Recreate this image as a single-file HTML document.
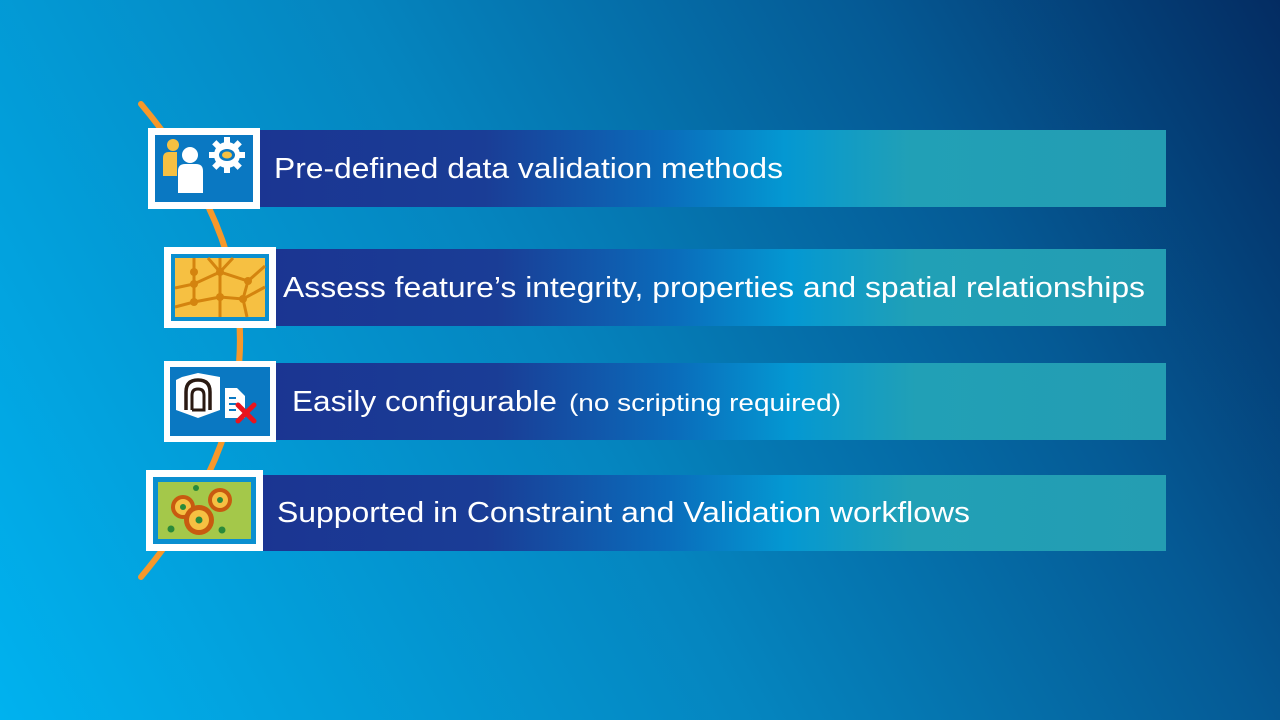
<!DOCTYPE html>
<html><head><style>
html,body{margin:0;padding:0;width:1280px;height:720px;overflow:hidden}
svg{display:block}
text{font-family:"Liberation Sans",Arial,sans-serif;fill:#fff}
</style></head><body>
<svg width="1280" height="720" viewBox="0 0 1280 720" xmlns="http://www.w3.org/2000/svg">
<defs>
<linearGradient id="bg" x1="0" y1="720" x2="1280" y2="0" gradientUnits="userSpaceOnUse">
<stop offset="0" stop-color="#00b2ef"/>
<stop offset="0.45" stop-color="#0585bf"/>
<stop offset="0.75" stop-color="#055a95"/>
<stop offset="1" stop-color="#042c62"/>
</linearGradient>
<linearGradient id="bar" x1="0" y1="0" x2="1" y2="0">
<stop offset="0" stop-color="#1b3592"/>
<stop offset="0.25" stop-color="#1a3d96"/>
<stop offset="0.45" stop-color="#0a6cbb"/>
<stop offset="0.58" stop-color="#0498d2"/>
<stop offset="0.72" stop-color="#21a0b6"/>
<stop offset="1" stop-color="#249db2"/>
</linearGradient>
</defs>
<rect width="1280" height="720" fill="url(#bg)"/>
<path d="M141,104 Q339,340 141,577" fill="none" stroke="#f7982a" stroke-width="6" stroke-linecap="round"/>

<!-- bars -->
<rect x="258" y="130" width="908" height="77" fill="url(#bar)"/>
<rect x="274" y="249" width="892" height="77" fill="url(#bar)"/>
<rect x="274" y="363" width="892" height="77" fill="url(#bar)"/>
<rect x="261" y="475" width="905" height="76" fill="url(#bar)"/>

<!-- box 1 -->
<rect x="148" y="128" width="112" height="81" fill="#fff"/>
<rect x="155" y="135" width="98" height="67" fill="#0a78c2"/>
<circle cx="173" cy="145" r="6" fill="#f6c042"/>
<path d="M163,176 v-18 q0,-6 6,-6 h8 v24 z" fill="#f6c042"/>
<circle cx="190" cy="155" r="8" fill="#fff"/>
<path d="M178,193 v-22 q0,-7 7,-7 h11 q7,0 7,7 v22 z" fill="#fff"/>
<g transform="translate(227,155)">
<circle r="13" fill="#fff"/>
<g fill="#fff"><rect x="-3" y="-18" width="6" height="36"/><rect x="-18" y="-3" width="36" height="6"/>
<rect x="-3" y="-18" width="6" height="36" transform="rotate(45)"/><rect x="-3" y="-18" width="6" height="36" transform="rotate(-45)"/></g>
<ellipse rx="8" ry="6" fill="#0a78c2"/><ellipse rx="5" ry="3.5" fill="#f6c042"/>
</g>

<!-- box 2 -->
<rect x="164" y="247" width="112" height="81" fill="#fff"/>
<rect x="171" y="254" width="98" height="67" fill="#0a8fd0"/>
<rect x="175" y="258" width="90" height="59" fill="#f6c042"/>
<g stroke="#d4840f" stroke-width="3" fill="none">
<path d="M175,288 L194,284 L220,272 L248,281 L265,266"/>
<path d="M175,307 L194,302 L220,297 L243,299 L265,287"/>
<path d="M194,258 V302 M220,258 V317 M248,281 L243,299 L247,317 M208,258 L220,272 L233,258"/>
</g>
<g fill="#d4840f"><circle cx="194" cy="272" r="4"/><circle cx="194" cy="284" r="4"/><circle cx="220" cy="272" r="4"/><circle cx="248" cy="281" r="4"/><circle cx="194" cy="302" r="4"/><circle cx="220" cy="297" r="4"/><circle cx="243" cy="299" r="4"/></g>

<!-- box 3 -->
<rect x="164" y="361" width="112" height="81" fill="#fff"/>
<rect x="170" y="367" width="100" height="69" fill="#0a78c2"/>
<path d="M182,377 L198,373 L220,377 L220,410 L198,418 L176,410 L176,380 z" fill="#fff"/>
<path d="M186,410 V392 q0,-12 12,-12 q12,0 12,12 V410" fill="none" stroke="#2a1a12" stroke-width="3.5"/>
<path d="M192,410 V395 q0,-6 6,-6 q6,0 6,6 V410 h-12" fill="none" stroke="#2a1a12" stroke-width="3"/>
<path d="M225,388 h12 l8,8 v22 h-20 z" fill="#fff"/>
<g stroke="#0a78c2" stroke-width="2"><line x1="229" y1="398" x2="236" y2="398"/><line x1="229" y1="404" x2="236" y2="404"/><line x1="229" y1="410" x2="236" y2="410"/></g>
<g stroke="#e8141d" stroke-width="5" stroke-linecap="round"><line x1="238" y1="405" x2="254" y2="421"/><line x1="254" y1="405" x2="238" y2="421"/></g>

<!-- box 4 -->
<rect x="146" y="470" width="117" height="81" fill="#fff"/>
<rect x="153" y="477" width="103" height="67" fill="#0a8fd0"/>
<rect x="158" y="482" width="93" height="57" fill="#a4c84a"/>
<circle cx="183" cy="507" r="12" fill="#c85a10"/><circle cx="183" cy="507" r="8" fill="#f6c042"/><circle cx="183" cy="507" r="3" fill="#2a8a3a"/>
<circle cx="220" cy="500" r="12" fill="#c85a10"/><circle cx="220" cy="500" r="8" fill="#f6c042"/><circle cx="220" cy="500" r="3" fill="#2a8a3a"/>
<circle cx="199" cy="520" r="15" fill="#c85a10"/><circle cx="199" cy="520" r="10" fill="#f6c042"/><circle cx="199" cy="520" r="3.5" fill="#2a8a3a"/>
<g fill="#2a8a3a"><circle cx="196" cy="488" r="3"/><circle cx="171" cy="529" r="3.5"/><circle cx="222" cy="530" r="3.5"/></g>

<!-- texts -->
<text x="274" y="178" font-size="29" textLength="509" lengthAdjust="spacingAndGlyphs">Pre-defined data validation  methods</text>
<text x="283" y="297" font-size="29" textLength="862" lengthAdjust="spacingAndGlyphs">Assess feature’s integrity, properties and spatial  relationships</text>
<text x="292" y="411" font-size="29" textLength="265" lengthAdjust="spacingAndGlyphs">Easily configurable</text>
<text x="569" y="411" font-size="24" textLength="272" lengthAdjust="spacingAndGlyphs">(no scripting required)</text>
<text x="277" y="522" font-size="29" textLength="693" lengthAdjust="spacingAndGlyphs">Supported in Constraint and Validation  workflows</text>
</svg>
</body></html>
